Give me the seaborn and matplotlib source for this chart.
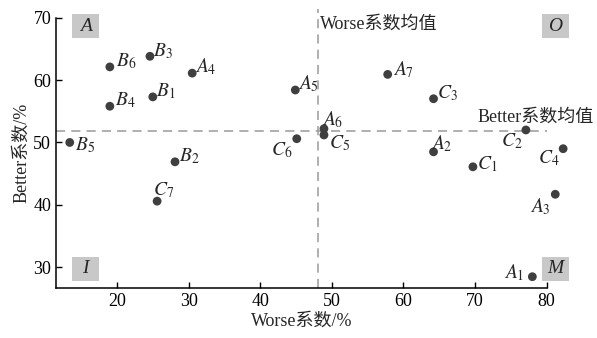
import pandas as pd
import matplotlib
matplotlib.use("Agg")
import matplotlib.pyplot as plt
from matplotlib.patches import Rectangle
import seaborn as sns

# 各需求点的 Worse / Better 系数 (%)
labels = ["A1", "A2", "A3", "A4", "A5", "A6", "A7",
          "B1", "B2", "B3", "B4", "B5", "B6",
          "C1", "C2", "C3", "C4", "C5", "C6", "C7"]
worse = [78.0, 64.2, 81.2, 30.5, 44.9, 48.9, 57.8,
         25.0, 28.1, 24.6, 19.0, 13.4, 19.0,
         69.7, 77.1, 64.2, 82.3, 48.9, 45.1, 25.6]
better = [28.5, 48.5, 41.7, 61.1, 58.4, 52.2, 60.9,
          57.3, 46.9, 63.8, 55.8, 50.0, 62.1,
          46.1, 52.0, 57.0, 49.0, 51.2, 50.6, 40.6]
worse_mean = 48.0
better_mean = 51.9
quadrants = ["A", "O", "I", "M"]

df = pd.DataFrame({"label": labels, "worse": worse, "better": better})

# 标签偏移 (像素) 和对齐方式
offsets = {
    "A1": (-8, 4, "right"), "A2": (-3, 8, "left"), "A3": (-5, -12, "right"),
    "A4": (3, 6, "left"), "A5": (3, 6, "left"), "A6": (-2, 9, "left"),
    "A7": (5, 5, "left"), "B1": (3, 6, "left"), "B2": (4, 6, "left"),
    "B3": (3, 5, "left"), "B4": (5, 6, "left"), "B5": (5, -3, "left"),
    "B6": (6, 6, "left"), "C1": (4, 3, "left"), "C2": (-3, -11, "right"),
    "C3": (3, 6, "left"), "C4": (-4, -9, "right"), "C5": (5, -8, "left"),
    "C6": (-4, -11, "right"), "C7": (-4, 11, "left"),
}

sns.set_style("ticks")
plt.rcParams["font.family"] = ["Liberation Serif", "Noto Sans CJK SC"]
plt.rcParams["mathtext.fontset"] = "stix"
plt.rcParams["font.size"] = 13

fig = plt.figure(figsize=(5.97, 3.38), dpi=100)
ax = fig.add_axes([0.0938, 0.147, 0.8219, 0.801])

sns.scatterplot(data=df, x="worse", y="better", ax=ax, s=40, color="#3f3f3f",
                edgecolor="none", clip_on=False, zorder=3)

for lab, x, y in zip(labels, worse, better):
    dx, dy, ha = offsets[lab]
    ax.annotate(rf"$\mathit{{{lab[0]}}}_{{{lab[1:]}}}$", (x, y), xytext=(dx, dy),
                textcoords="offset pixels", ha=ha, va="center", fontsize=14,
                annotation_clip=False)

dash = dict(color="#9a9a9a", lw=1.1, dashes=(6, 4))
ax.axhline(better_mean, zorder=1, **dash)
ax.axvline(worse_mean, ymin=0, ymax=1.03, clip_on=False, zorder=1, **dash)
ax.text(worse_mean + 0.3, 69.0, "Worse系数均值", ha="left", va="center", fontsize=13)
ax.text(78.4, 54.1, "Better系数均值", ha="center", va="center", fontsize=13,
        clip_on=False)

quad_pos = [(15.6, 68.6), (81.2, 68.6), (15.6, 29.8), (81.2, 29.8)]
bw, bh = 3.77, 3.84
for q, (qx, qy) in zip(quadrants, quad_pos):
    ax.add_patch(Rectangle((qx - bw / 2, qy - bh / 2), bw, bh, fc="#c8c8c8",
                           ec="none", clip_on=False, zorder=2))
    ax.text(qx, qy, q, ha="center", va="center", fontsize=14, style="italic",
            clip_on=False, zorder=4)

ax.set_xlim(11.48, 80)
ax.set_ylim(26.64, 70)
ax.set_xticks([20, 30, 40, 50, 60, 70, 80])
ax.set_yticks([30, 40, 50, 60, 70])
ax.tick_params(direction="in", length=4, width=1, labelsize=13, colors="black")
for s in ["left", "bottom"]:
    ax.spines[s].set_linewidth(1.1)
    ax.spines[s].set_color("black")
sns.despine(ax=ax)
ax.set_xlabel("Worse系数/%", fontsize=13, labelpad=2)
ax.set_ylabel("Better系数/%", fontsize=13, labelpad=2)

fig.savefig("out.png", dpi=100)
